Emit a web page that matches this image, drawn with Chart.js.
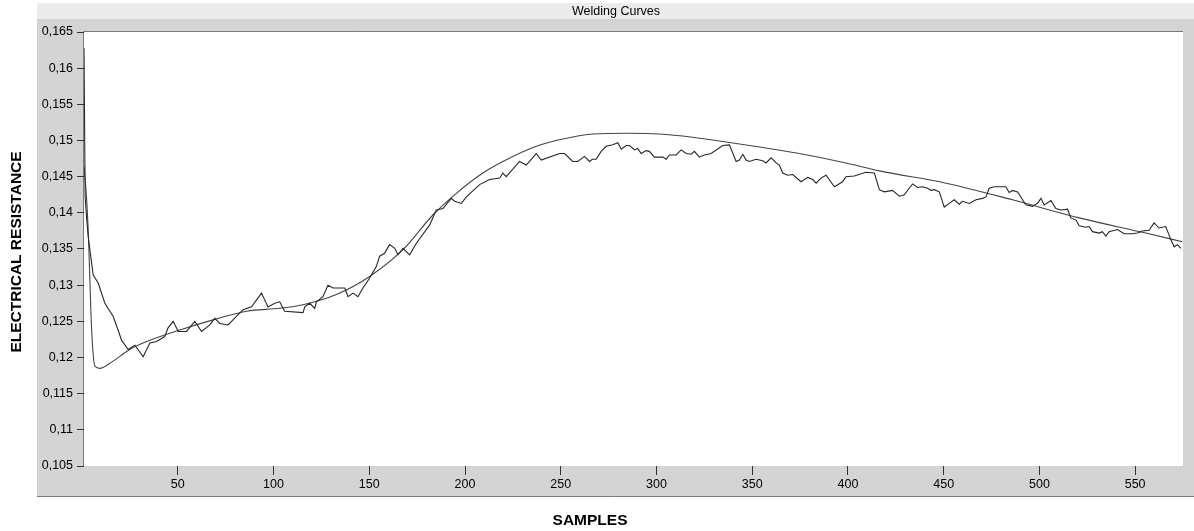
<!DOCTYPE html>
<html>
<head>
<meta charset="utf-8">
<script src="https://cdn.jsdelivr.net/npm/chart.js@4"></script>
<style>
html,body{margin:0;padding:0;background:#fff;}
#wrap{width:1194px;height:531px;}
</style>
</head>
<body>
<div id="wrap"><canvas id="c" width="1194" height="531"></canvas></div>
<script>
const chartTitle = "Welding Curves";
const xTitle = "SAMPLES";
const yTitle = "ELECTRICAL RESISTANCE";
const xTicks = [50,100,150,200,250,300,350,400,450,500,550];
const yTicks = [0.105,0.11,0.115,0.12,0.125,0.13,0.135,0.14,0.145,0.15,0.155,0.16,0.165];

const measuredX = [1,1.6,2.3,3.2,5.8,8.4,11.9,16.2,18.8,20.6,24.1,27.6,31.9,35.4,38.9,43.2,44.9,47.6,50.2,54.5,
58.9,62.4,66.7,69.3,71.9,76.3,80.6,84.1,88.5,93.7,97.1,100.6,103.2,105.8,115.4,116.3,118.9,121.5,122.4,125.8,
128.4,131.1,137.2,138.9,141.5,144.1,146.7,150.2,153.7,155.4,158.0,160.6,163.3,165.0,167.6,171.1,174.6,181.5,185.0,188.5,
192.8,194.6,198.1,200.7,207.6,212.8,218.1,219.8,221.5,228.5,232.0,237.2,239.8,249.4,252.0,256.3,258.9,262.4,265.0,266.5,
268.5,271.1,273.7,277.2,279.8,281.6,284.2,285.9,288.5,290.2,292.0,294.6,296.3,298.9,303.3,305.1,306.8,310.3,312.9,315.5,
318.1,319.8,322.4,325.0,328.5,334.6,338.1,341.6,343.3,345.1,346.8,348.5,352.0,355.5,357.2,359.9,362.5,364.2,365.9,368.5,
371.2,375.5,379.0,381.6,383.4,385.9,388.6,392.9,397.2,399.0,403.3,409.4,413.8,416.4,419.0,423.3,426.8,429.4,432.0,433.8,
436.4,439.0,441.6,443.4,445.1,447.7,450.3,452.9,455.5,458.1,459.9,463.4,466.9,470.3,472.1,473.8,476.4,482.5,484.2,486.0,
488.6,491.2,492.9,496.4,499.0,500.8,502.5,506.0,508.6,511.2,514.7,516.4,519.1,520.8,524.3,526.0,527.7,531.2,532.9,534.7,
536.4,540.8,544.3,548.6,551.2,553.8,557.3,559.9,562.5,566.0,568.6,570.4,572.1,573.9];
const measuredY = [0.1628,0.1422,0.1395,0.1367,0.1314,0.1303,0.1275,0.1257,0.1238,0.1224,0.1211,0.1217,0.1201,0.1220,0.1222,0.1229,0.1241,0.1250,0.1236,0.1236,
0.1250,0.1236,0.1245,0.1254,0.1247,0.1245,0.1257,0.1266,0.1270,0.1289,0.1270,0.1275,0.1277,0.1264,0.1262,0.1270,0.1275,0.1268,0.1277,0.1284,
0.1300,0.1296,0.1296,0.1284,0.1289,0.1284,0.1296,0.1310,0.1326,0.1340,0.1344,0.1356,0.1351,0.1342,0.1351,0.1342,0.1358,0.1383,0.1404,0.1406,
0.1420,0.1416,0.1413,0.1422,0.1439,0.1446,0.1448,0.1455,0.1450,0.1471,0.1466,0.1482,0.1473,0.1482,0.1482,0.1471,0.1471,0.1478,0.1471,0.1474,
0.1474,0.1485,0.1492,0.1494,0.1497,0.1488,0.1493,0.1493,0.1487,0.1489,0.1482,0.1486,0.1485,0.1477,0.1477,0.1474,0.1480,0.1480,0.1487,0.1482,
0.1481,0.1485,0.1477,0.1480,0.1482,0.1493,0.1494,0.1471,0.1473,0.1481,0.1473,0.1471,0.1474,0.1472,0.1469,0.1476,0.1469,0.1466,0.1455,0.1452,
0.1453,0.1443,0.1449,0.1446,0.1441,0.1448,0.1452,0.1436,0.1443,0.1450,0.1451,0.1456,0.1455,0.1432,0.1429,0.1431,0.1423,0.1425,0.1434,0.1440,
0.1435,0.1436,0.1434,0.1431,0.1432,0.1429,0.1408,0.1413,0.1418,0.1412,0.1416,0.1413,0.1418,0.1420,0.1422,0.1434,0.1436,0.1436,0.1428,0.1431,
0.1429,0.1418,0.1411,0.1409,0.1413,0.1420,0.1411,0.1417,0.1406,0.1404,0.1405,0.1393,0.1390,0.1382,0.1380,0.1381,0.1374,0.1372,0.1374,0.1368,
0.1374,0.1377,0.1371,0.1371,0.1372,0.1375,0.1376,0.1386,0.1379,0.1381,0.1363,0.1353,0.1356,0.1351];

const fitX = [1,2.3,3.2,5.0,6.7,9.3,14.5,24.9,33.7,51,68.4,85.9,103,115.4,132.8,150.2,167.6,183.2,195.5,209.3,
219.8,237.2,251.1,266.8,285,301.6,318.9,336.4,353.8,374.6,399,416.4,451.2,486,520.8,555.6,574.7];
const fitY = [0.1465,0.1422,0.1376,0.1238,0.1188,0.1185,0.1192,0.1211,0.1222,0.1238,0.1252,0.1264,0.1268,0.1273,0.1287,0.1312,0.1349,0.1397,0.1427,0.1455,
0.1471,0.1492,0.1502,0.1509,0.1510,0.1509,0.15045,0.1498,0.1491,0.1482,0.1469,0.1458,0.1441,0.1418,0.1393,0.1372,0.1360];

const measured = measuredX.map((x,i)=>({x:x,y:measuredY[i]}));
const fit = fitX.map((x,i)=>({x:x,y:fitY[i]}));

function fmt(v){
  let s = (+v.toFixed(3)).toString();
  return s.replace('.', ',');
}

const framePlugin = {
  id:'frame',
  beforeDraw(chart){
    const ctx = chart.ctx, a = chart.chartArea;
    ctx.save();
    ctx.fillStyle = '#ffffff';
    ctx.fillRect(0,0,chart.width,chart.height);
    ctx.fillStyle = '#d4d4d4';
    ctx.fillRect(37,3,chart.width-37,494);
    ctx.fillStyle = '#ebebeb';
    ctx.fillRect(37,3,chart.width-37,16);
    ctx.fillStyle = '#ffffff';
    ctx.fillRect(a.left,a.top,a.right-a.left,a.bottom-a.top);
    ctx.strokeStyle = '#7a7a7a';
    ctx.lineWidth = 1;
    ctx.beginPath();
    ctx.moveTo(a.left-0.5, a.bottom);
    ctx.lineTo(a.left-0.5, a.top-0.5);
    ctx.lineTo(a.right, a.top-0.5);
    ctx.stroke();
    ctx.beginPath();
    ctx.moveTo(37, 496.5);
    ctx.lineTo(chart.width, 496.5);
    ctx.stroke();
    ctx.restore();
  },
  afterDraw(chart){
    const ctx = chart.ctx;
    ctx.save();
    ctx.fillStyle = '#000';
    ctx.textAlign = 'center';
    ctx.textBaseline = 'middle';
    ctx.font = '12.5px "Liberation Sans", Arial, sans-serif';
    ctx.fillText(chartTitle, 616, 11.5);
    ctx.font = 'bold 15.5px "Liberation Sans", Arial, sans-serif';
    ctx.fillText(xTitle, 590, 521);
    ctx.translate(17, 252);
    ctx.rotate(-Math.PI/2);
    ctx.fillText(yTitle, 0, 0);
    ctx.restore();
  }
};

new Chart(document.getElementById('c'), {
  type:'line',
  data:{
    datasets:[
      {label:'Measured', data:measured, borderColor:'#262626', borderWidth:1.1, pointRadius:0, tension:0, fill:false},
      {label:'Fit', data:fit, borderColor:'#444444', borderWidth:1.1, pointRadius:0, cubicInterpolationMode:'monotone', fill:false}
    ]
  },
  options:{
    responsive:false,
    animation:false,
    devicePixelRatio:1,
    layout:{padding:{left:0,top:32,right:11,bottom:0}},
    plugins:{legend:{display:false}, tooltip:{enabled:false}, title:{display:false}},
    scales:{
      x:{
        type:'linear', min:1, max:575,
        afterBuildTicks(s){ s.ticks = xTicks.map(v=>({value:v})); },
        afterFit(s){ s.height = 65; },
        grid:{drawOnChartArea:false, drawTicks:true, tickLength:9, color:'#333', lineWidth:1},
        border:{display:false},
        ticks:{color:'#000', font:{family:'"Liberation Sans", Arial, sans-serif', size:12.5}, padding:2, maxRotation:0, autoSkip:false}
      },
      y:{
        type:'linear', min:0.105, max:0.165,
        afterBuildTicks(s){ s.ticks = yTicks.map(v=>({value:v})); },
        afterFit(s){ s.width = 84; },
        grid:{drawOnChartArea:false, drawTicks:true, tickLength:7, color:'#333', lineWidth:1},
        border:{display:false},
        ticks:{color:'#000', font:{family:'"Liberation Sans", Arial, sans-serif', size:12.5}, padding:4, autoSkip:false, callback:(v)=>fmt(v)}
      }
    }
  },
  plugins:[framePlugin]
});
</script>
</body>
</html>
